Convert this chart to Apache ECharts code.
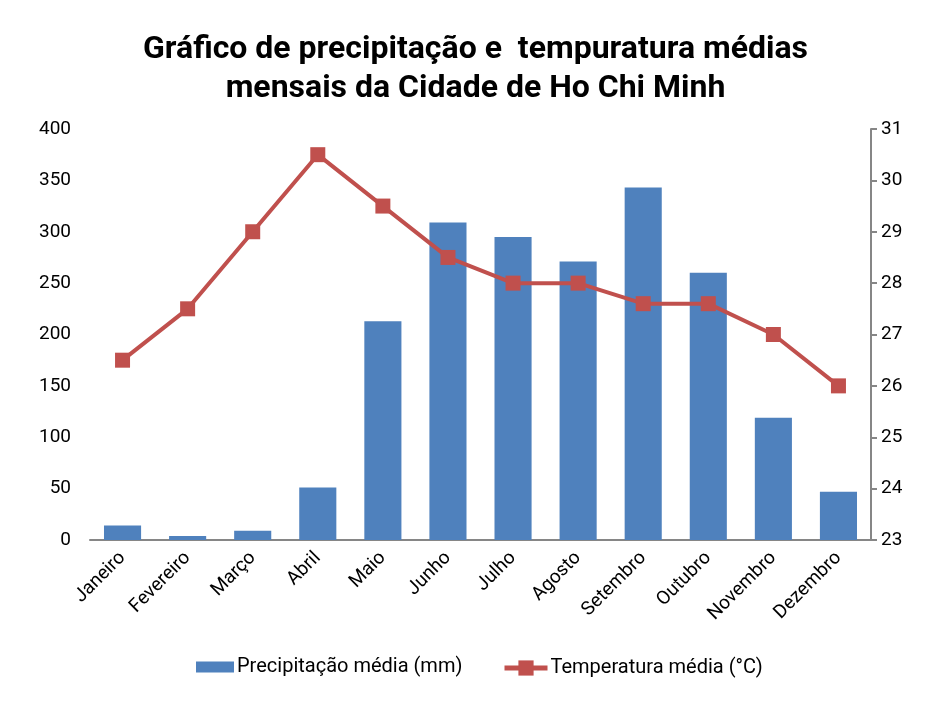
<!DOCTYPE html>
<html><head><meta charset="utf-8">
<script src="https://cdn.jsdelivr.net/npm/echarts@6/dist/echarts.min.js"></script>
<style>html,body{margin:0;padding:0;background:#fff}#c{width:951px;height:706px}</style>
</head><body><div id="c"></div>
<script>
const months = ['Janeiro','Fevereiro','Março','Abril','Maio','Junho','Julho','Agosto','Setembro','Outubro','Novembro','Dezembro'];
const precip = [14, 4, 9, 51, 213, 309, 295, 271, 343, 260, 119, 47];
const temp = [26.5, 27.5, 29, 30.5, 29.5, 28.5, 28, 28, 27.6, 27.6, 27, 26];
const titleText = 'Gráfico de precipitação e  tempuratura médias\nmensais da Cidade de Ho Chi Minh';
const precipName = 'Precipitação média (mm)';
const tempName = 'Temperatura média (°C)';

const chart = echarts.init(document.getElementById('c'));
const font = 'Roboto';
const legTxt = {fontFamily: font, fontSize: 20, color: '#000', padding: [0, 0, 0, -2]};
chart.setOption({
  animation: false,
  textStyle: {fontFamily: font},
  title: {
    text: titleText, left: 'center', top: 25,
    textStyle: {fontFamily: font, fontSize: 32, fontWeight: 'bold', color: '#000', lineHeight: 39}
  },
  legend: [
    {left: 191, top: 652, itemWidth: 38, itemHeight: 11, textStyle: legTxt,
     data: [{name: precipName, icon: 'rect'}]},
    {left: 497, top: 653, itemWidth: 43, itemHeight: 19, textStyle: legTxt,
     lineStyle: {width: 5},
     data: [{name: tempName}]}
  ],
  grid: {left: 90, right: 80, top: 129, bottom: 166},
  xAxis: {
    type: 'category', data: months,
    axisLine: {lineStyle: {color: '#868686', width: 2}},
    axisTick: {show: false},
    axisLabel: {rotate: 45, fontFamily: font, fontSize: 19, color: '#000', margin: 15, interval: 0}
  },
  yAxis: [
    {type: 'value', min: 0, max: 400, interval: 50,
     axisLine: {show: false}, axisTick: {show: false}, splitLine: {show: false},
     axisLabel: {fontFamily: font, fontSize: 19, color: '#000', margin: 19}},
    {type: 'value', min: 23, max: 31, interval: 1, position: 'right',
     axisLine: {show: true, lineStyle: {color: '#868686', width: 2}},
     axisTick: {show: true, length: 6, lineStyle: {color: '#868686', width: 2}},
     splitLine: {show: false},
     axisLabel: {fontFamily: font, fontSize: 19, color: '#000', margin: 10}}
  ],
  series: [
    {name: precipName, type: 'bar', data: precip, yAxisIndex: 0, barWidth: '57%',
     itemStyle: {color: '#4F81BD'}},
    {name: tempName, type: 'line', data: temp, yAxisIndex: 1,
     symbol: 'rect', symbolSize: 15,
     lineStyle: {color: '#C0504D', width: 4}, itemStyle: {color: '#C0504D'}}
  ]
});
</script></body></html>
